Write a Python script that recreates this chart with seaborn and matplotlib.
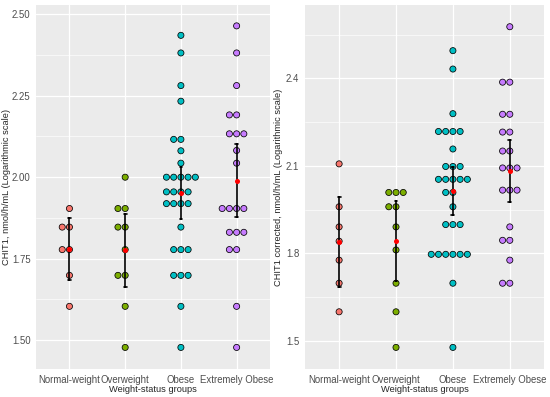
import numpy as np
import pandas as pd
import matplotlib.pyplot as plt
import seaborn as sns
from matplotlib.ticker import AutoMinorLocator, MultipleLocator

groups = ['Normal-weight', 'Overweight', 'Obese', 'Extremely Obese']
colors = ['#F8766D', '#7CAE00', '#00BFC4', '#C77CFF']

# CHIT1 (log scale) - distinct levels and how many subjects sit on each
chit_normal_vals = [1.904, 1.847, 1.778, 1.699, 1.604]
chit_normal_cnt = [1, 2, 2, 1, 1]
chit_over_vals = [2.000, 1.904, 1.847, 1.778, 1.699, 1.604, 1.478]
chit_over_cnt = [1, 2, 2, 1, 2, 1, 1]
chit_obese_vals = [2.435, 2.381, 2.281, 2.233, 2.116, 2.081, 2.043, 2.000, 1.955,
                   1.919, 1.847, 1.778, 1.699, 1.604, 1.478]
chit_obese_cnt = [1, 1, 1, 1, 2, 1, 1, 5, 4, 4, 1, 3, 3, 1, 1]
chit_extreme_vals = [2.464, 2.381, 2.281, 2.191, 2.133, 2.082, 2.043, 1.904,
                     1.831, 1.778, 1.604, 1.478]
chit_extreme_cnt = [1, 1, 1, 2, 3, 1, 1, 4, 3, 2, 1, 1]

# CHIT1 corrected (log scale)
corr_normal_vals = [2.107, 1.960, 1.891, 1.842, 1.777, 1.698, 1.600]
corr_normal_cnt = [1, 1, 1, 1, 1, 1, 1]
corr_over_vals = [2.009, 1.960, 1.891, 1.812, 1.698, 1.600, 1.478]
corr_over_cnt = [3, 2, 1, 1, 1, 1, 1]
corr_obese_vals = [2.495, 2.432, 2.279, 2.218, 2.158, 2.098, 2.054, 2.009, 1.960,
                   1.899, 1.797, 1.698, 1.478]
corr_obese_cnt = [1, 1, 1, 4, 1, 3, 5, 2, 1, 3, 6, 1, 1]
corr_extreme_vals = [2.577, 2.387, 2.277, 2.216, 2.151, 2.093, 2.017, 1.891,
                     1.845, 1.777, 1.698]
corr_extreme_cnt = [1, 2, 2, 2, 2, 3, 3, 1, 2, 1, 2]

# t(0.975) for the group sizes used here
T975 = {6: 2.447, 9: 2.262, 20: 2.086, 29: 2.045}


def t_quantile(dof):
    try:
        from scipy import stats
        return stats.t.ppf(0.975, dof)
    except ImportError:
        return T975.get(dof, 1.96)


def mean_cl_normal(x):
    # 95% t-based confidence interval around the mean
    x = np.asarray(x)
    m = x.mean()
    half = t_quantile(len(x) - 1) * x.std(ddof=1) / np.sqrt(len(x))
    return m - half, m + half


def make_frame(vals, cnts):
    rows = []
    for g, v, c in zip(groups, vals, cnts):
        for val in np.repeat(v, c):
            rows.append((g, val))
    return pd.DataFrame(rows, columns=['group', 'value'])


def draw_panel(ax, df, ylabel, ylim, step, label_x):
    pal = dict(zip(groups, colors))
    sns.swarmplot(data=df, x='group', y='value', hue='group', palette=pal, order=groups,
                  size=4.4, edgecolor='black', linewidth=0.55, legend=False, ax=ax, zorder=3)
    # mean with 95% CI
    sns.pointplot(data=df, x='group', y='value', order=groups, errorbar=mean_cl_normal,
                  color='black', linestyle='none', markersize=0, capsize=0.05,
                  err_kws={'linewidth': 1.2}, ax=ax, zorder=4)
    sns.pointplot(data=df, x='group', y='value', order=groups, errorbar=None, color='red',
                  linestyle='none', markersize=1.6, ax=ax, zorder=5)

    ax.set_xlim(-0.6, 3.6)
    ax.set_ylim(*ylim)
    ax.yaxis.set_major_locator(MultipleLocator(step))
    ax.yaxis.set_minor_locator(AutoMinorLocator(2))
    ax.grid(which='major', color='white', linewidth=0.9)
    ax.grid(which='minor', axis='y', color='white', linewidth=0.45)
    ax.set_axisbelow(True)
    for s in ax.spines.values():
        s.set_visible(False)
    ax.tick_params(axis='both', which='major', length=2.5, width=0.6, color='#333333',
                   labelcolor='#4D4D4D', labelsize=6.9, pad=1.5)
    ax.tick_params(axis='y', which='minor', length=0)
    ax.set_xlabel('Weight-status groups', fontsize=6.7, labelpad=0)
    ax.set_ylabel(ylabel, fontsize=6.7)
    ax.yaxis.set_label_coords(label_x, 0.5)


sns.set_style('darkgrid', {'axes.facecolor': '#EBEBEB'})
plt.rcParams['font.family'] = ['Liberation Sans', 'DejaVu Sans']

fig = plt.figure(figsize=(5.5, 3.97), dpi=100)
ax1 = fig.add_axes([0.0655, 0.0698, 0.4255, 0.918])
ax2 = fig.add_axes([0.5545, 0.0698, 0.4345, 0.918])

df1 = make_frame([chit_normal_vals, chit_over_vals, chit_obese_vals, chit_extreme_vals],
                 [chit_normal_cnt, chit_over_cnt, chit_obese_cnt, chit_extreme_cnt])
df2 = make_frame([corr_normal_vals, corr_over_vals, corr_obese_vals, corr_extreme_vals],
                 [corr_normal_cnt, corr_over_cnt, corr_obese_cnt, corr_extreme_cnt])

draw_panel(ax1, df1, 'CHIT1, nmol/h/mL (Logarithmic scale)', (1.411, 2.5285), 0.25, -0.105)
ax1.yaxis.set_major_formatter(plt.FormatStrFormatter('%.2f'))
draw_panel(ax2, df2, 'CHIT1 corrected, nmol/h/mL (Logarithmic scale)', (1.403, 2.652), 0.3, -0.09)
ax2.yaxis.set_major_formatter(plt.FormatStrFormatter('%.1f'))

fig.savefig('out.png', dpi=100)
